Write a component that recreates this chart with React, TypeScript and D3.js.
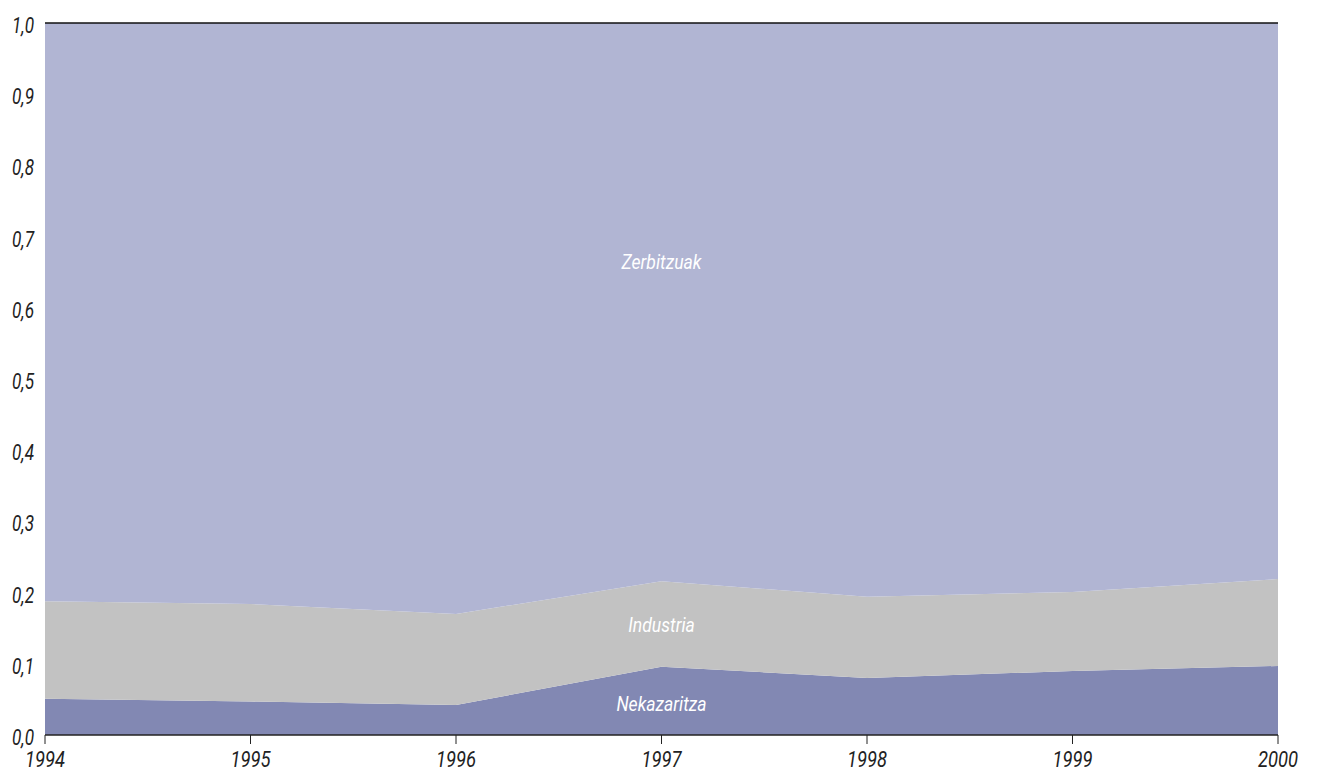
import React from "react";
import * as d3 from "d3";

const years = [1994, 1995, 1996, 1997, 1998, 1999, 2000];
const nekazaritza = [0.051, 0.047, 0.042, 0.096, 0.080, 0.090, 0.097];
const industria = [0.137, 0.137, 0.128, 0.120, 0.114, 0.111, 0.122];
const zerbitzuak = [0.812, 0.816, 0.830, 0.784, 0.806, 0.799, 0.781];
const seriesNames = ["Nekazaritza", "Industria", "Zerbitzuak"];
const yTicks = [0, 0.1, 0.2, 0.3, 0.4, 0.5, 0.6, 0.7, 0.8, 0.9, 1.0];
const colors = ["#8288b3", "#c2c2c2", "#b1b5d3"];
const labelPos = [0.044, 0.155, 0.665];

export default function App() {
  const W = 1319, H = 772;
  const left = 45, right = 1278, top = 23, bottom = 735;
  const x = d3.scaleLinear().domain([1994, 2000]).range([left, right]);
  const y = d3.scaleLinear().domain([0, 1]).range([bottom, top]);
  const rows = years.map((yr, i) => ({
    year: yr,
    Nekazaritza: nekazaritza[i],
    Industria: industria[i],
    Zerbitzuak: zerbitzuak[i],
  }));
  const stack = d3.stack<any>().keys(seriesNames)(rows);
  const area = d3
    .area<any>()
    .x((d) => x(d.data.year))
    .y0((d) => y(d[0]))
    .y1((d) => y(Math.min(1, d[1])));
  const font = "Roboto, 'Liberation Sans', sans-serif";
  const fmt = (v: number) => v.toFixed(1).replace(".", ",");
  return (
    <svg width={W} height={H} style={{ position: "absolute", left: 0, top: 0 }}>
      <rect width={W} height={H} fill="#ffffff" />
      {stack.map((s, i) => (
        <path key={seriesNames[i]} d={area(s) || ""} fill={colors[i]} />
      ))}
      <line x1={left} x2={right} y1={y(1)} y2={y(1)} stroke="#111" strokeWidth={1.3} />
      <line x1={left} x2={right} y1={y(0)} y2={y(0)} stroke="#222" strokeWidth={1.3} />
      {years.map((yr) => (
        <g key={yr}>
          <line x1={x(yr)} x2={x(yr)} y1={y(0)} y2={y(0) + 9} stroke="#222" strokeWidth={1} />
          <g transform={`translate(${x(yr)},${y(0) + 32}) scale(0.82,1)`}>
            <text
              textAnchor="middle"
              fontFamily={font}
              fontStyle="italic"
              fontSize={22.5}
              fill="#222"
            >
              {yr}
            </text>
          </g>
        </g>
      ))}
      {yTicks.map((t) => (
        <g key={t} transform={`translate(34,${y(t) + 10}) scale(0.8,1)`}>
          <text
            textAnchor="end"
            fontFamily={font}
            fontStyle="italic"
            fontSize={21.5}
            fill="#222"
          >
            {fmt(t)}
          </text>
        </g>
      ))}
      {seriesNames.map((n, i) => (
        <g key={n} transform={`translate(${x(1997)},${y(labelPos[i]) + 7}) scale(0.88,1)`}>
          <text
            textAnchor="middle"
            fontFamily={font}
            fontStyle="italic"
            fontSize={20}
            fill="#ffffff"
          >
            {n}
          </text>
        </g>
      ))}
    </svg>
  );
}
